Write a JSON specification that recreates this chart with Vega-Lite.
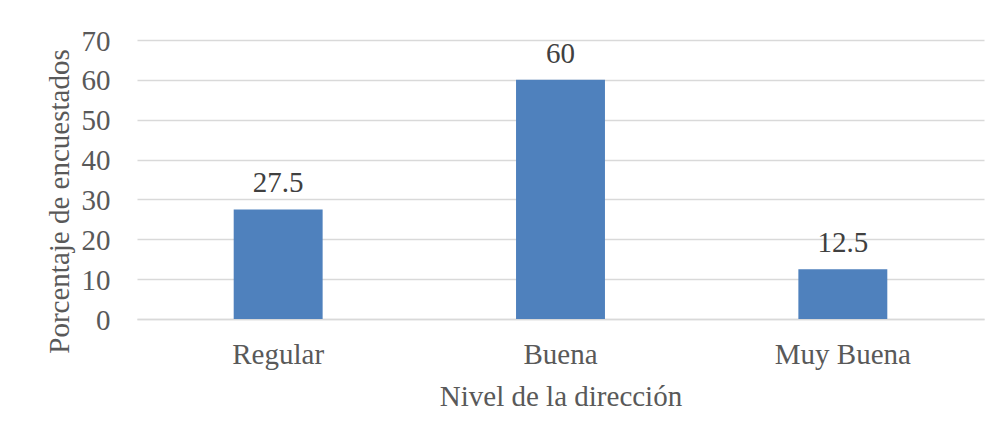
{
  "$schema": "https://vega.github.io/schema/vega-lite/v6.json",
  "width": 847,
  "height": 279,
  "autosize": {"type": "none"},
  "padding": {"left": 137, "top": 40, "right": 17, "bottom": 118},
  "background": "white",
  "config": {
    "view": {"stroke": null},
    "font": "Liberation Serif"
  },
  "data": {
    "values": [
      {"nivel": "Regular", "porcentaje": 27.5},
      {"nivel": "Buena", "porcentaje": 60},
      {"nivel": "Muy Buena", "porcentaje": 12.5}
    ]
  },
  "encoding": {
    "x": {
      "field": "nivel",
      "type": "nominal",
      "sort": null,
      "scale": {"paddingInner": 0.685, "paddingOuter": 0.3425},
      "axis": {
        "title": "Nivel de la dirección",
        "labelAngle": 0,
        "labelFont": "Liberation Serif",
        "labelFontSize": 29,
        "labelColor": "#595959",
        "labelBaseline": "alphabetic",
        "labelPadding": 44,
        "ticks": false,
        "tickSize": 0,
        "domainColor": "#d9d9d9",
        "domainWidth": 1.5,
        "titleFont": "Liberation Serif",
        "titleFontSize": 29,
        "titleFontWeight": "normal",
        "titleColor": "#595959",
        "titleBaseline": "alphabetic",
        "titleY": 86
      }
    },
    "y": {
      "field": "porcentaje",
      "type": "quantitative",
      "scale": {"domain": [0, 70], "nice": false},
      "axis": {
        "title": "Porcentaje de encuestados",
        "values": [0, 10, 20, 30, 40, 50, 60, 70],
        "labelFont": "Liberation Serif",
        "labelFontSize": 29,
        "labelColor": "#595959",
        "labelPadding": 27,
        "labelBaseline": "middle",
        "labelOffset": 1,
        "ticks": false,
        "tickSize": 0,
        "domain": false,
        "grid": true,
        "gridColor": "#d9d9d9",
        "gridWidth": 1.5,
        "titleFont": "Liberation Serif",
        "titleFontSize": 29,
        "titleFontWeight": "normal",
        "titleColor": "#595959",
        "titleAngle": 270,
        "titleBaseline": "alphabetic",
        "titleAlign": "center",
        "titleX": -69,
        "titleY": 161
      }
    }
  },
  "layer": [
    {"mark": {"type": "bar", "color": "#4f81bd"}},
    {
      "mark": {
        "type": "text",
        "baseline": "alphabetic",
        "dy": -17,
        "font": "Liberation Serif",
        "fontSize": 29,
        "color": "#404040"
      },
      "encoding": {"text": {"field": "porcentaje", "type": "quantitative"}}
    }
  ]
}
